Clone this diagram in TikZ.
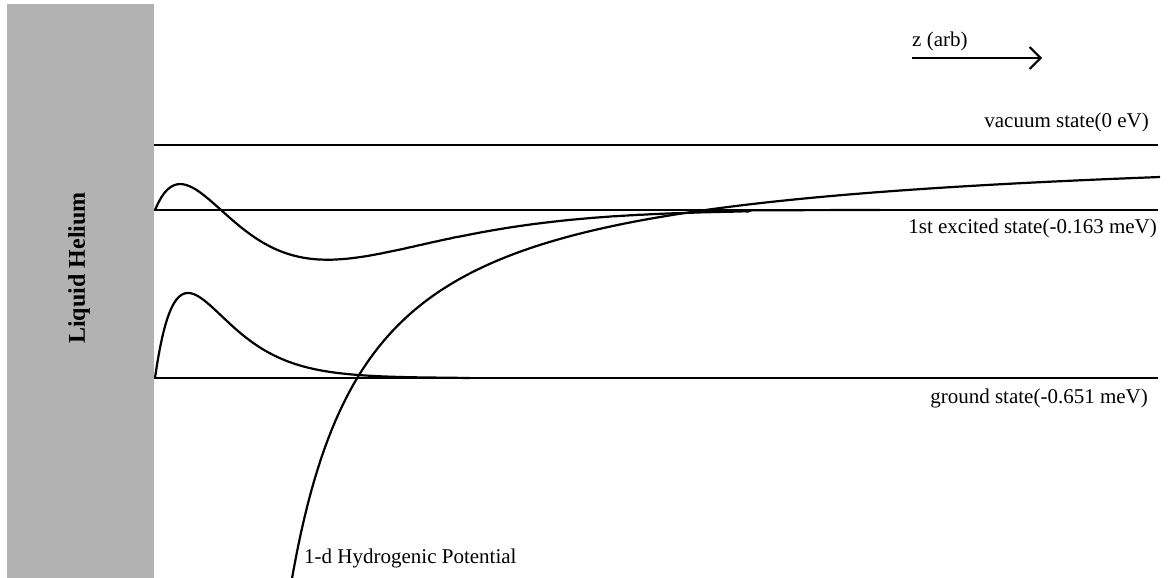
\documentclass[tikz,border=0pt]{standalone}
\usepackage{fontspec}
\setmainfont{Liberation Serif}
\usetikzlibrary{arrows.meta, positioning}
\definecolor{heliumgray}{RGB}{178,178,178}

\begin{document}
\begin{tikzpicture}[x=1pt, y=-1pt, >={Straight Barb[length=11pt,width=22pt]},
  level/.style={line width=2.6pt},
  wave/.style={line width=2.2pt, line join=round},
  statelabel/.style={font=\fontsize{21}{24}\selectfont, inner sep=0pt}]
\useasboundingbox (0,0) rectangle (1168,578);
\fill[heliumgray] (7,4) rectangle (154,578);
\node[rotate=90, font=\fontsize{24}{28}\selectfont\bfseries] (helium) at (79,268) {Liquid Helium};

% energy levels
\coordinate (vac west) at (154,145);
\coordinate (vac east) at (1158,145);
\coordinate (exc west) at (154,210);
\coordinate (exc east) at (1158,210);
\coordinate (gnd west) at (154,378);
\coordinate (gnd east) at (1158,378);
\draw[level] (vac west) -- (vac east);
\draw[level] (exc west) -- (exc east);
\draw[level] (gnd west) -- (gnd east);
\node[statelabel, anchor=base east] (vaclabel) at (1149,128) {vacuum state(0 eV)};
\node[statelabel, anchor=base east] (exclabel) at (1157,233) {1st excited state(-0.163 meV)};
\node[statelabel, anchor=base east] (gndlabel) at (1148,403) {ground state(-0.651 meV)};

% axis arrow
\coordinate (zstart) at (912,58);
\coordinate (zend) at (1042,58);
\draw[->, line width=2pt] (zstart) -- (zend);
\node[statelabel, anchor=base west] (zlabel) at (912,47) {z (arb)};

% wavefunctions
\draw[wave] plot[domain=155:780, samples=200] (\x, {210 - 161*((\x-155)/66)*(1-(\x-155)/66)*exp(-(\x-155)/66)}) -- (880,210);
\draw[wave] plot[domain=155:420, samples=150] (\x, {378 - 85*((\x-155)/33)*exp(1-(\x-155)/33)}) -- (470,378);

% potential
\draw[wave] plot[domain=290:1160, samples=250] (\x, {141.4 + 336.5/((\x-215)/100)});
\node[statelabel, anchor=base west] (potlabel) at (304,563) {1-d Hydrogenic Potential};
\end{tikzpicture}
\end{document}
